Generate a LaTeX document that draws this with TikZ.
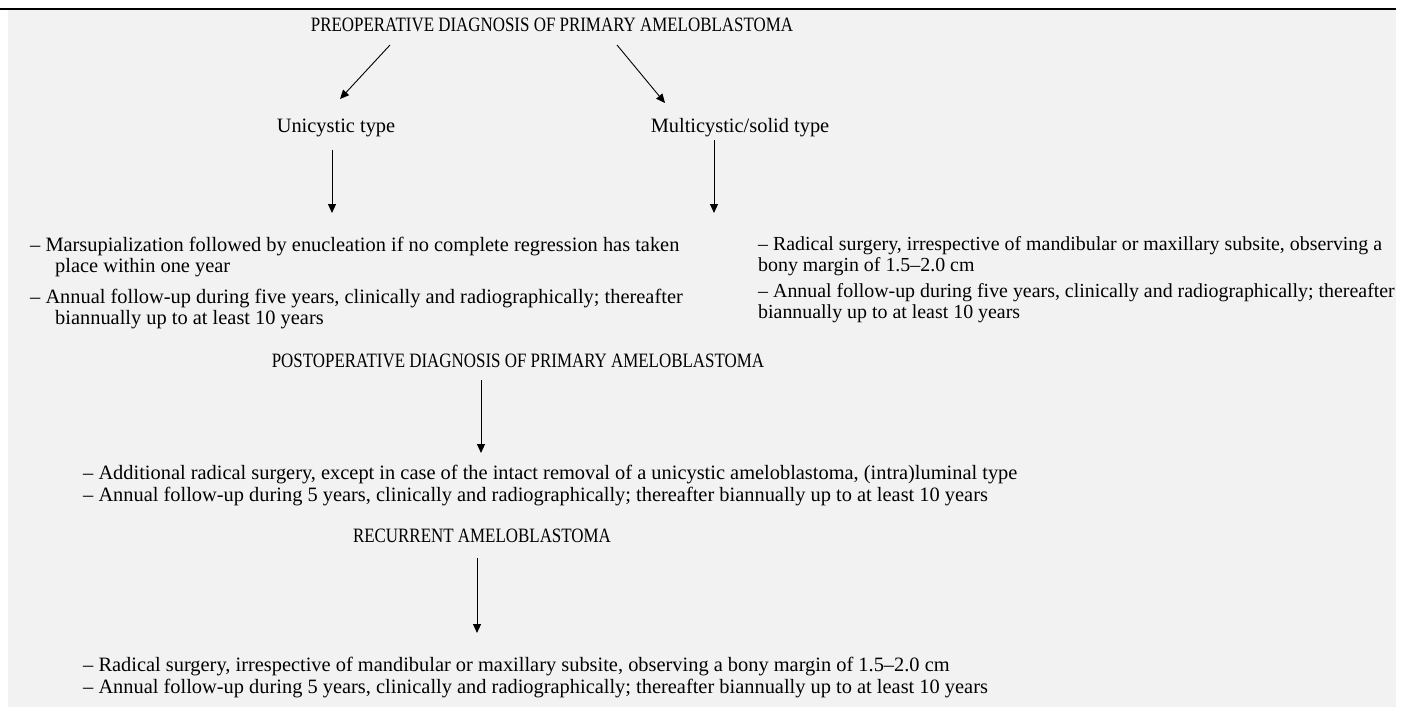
\documentclass[tikz,border=0pt]{standalone}
\usepackage{fontspec}
\setmainfont{Liberation Serif}
\usetikzlibrary{arrows.meta}
\newcommand{\ttltext}[1]{\scalebox{0.83}[1]{#1}}
\begin{document}
\begin{tikzpicture}[x=1pt,y=-1pt,
  txt/.style={inner sep=0pt,font=\fontsize{20.4}{24}\selectfont},
  blk/.style={txt,anchor=base west,align=left},
  rblk/.style={blk,font=\fontsize{19.9}{24}\selectfont},
  ttl/.style={txt,anchor=base},
  arr/.style={draw=black,line width=0.9pt,-{Triangle[length=9pt,width=8pt]}}]
\useasboundingbox (0,0) rectangle (1423,707);
\fill[white] (0,0) rectangle (1423,707);
\fill[black!5] (8,9) rectangle (1396,707);
\draw[line width=2.5pt] (0,9) -- (1396,9);
% titles
\node[ttl] (pre) at (552,31) {\ttltext{PREOPERATIVE DIAGNOSIS OF PRIMARY AMELOBLASTOMA}};
\node[ttl] (uni) at (336,132) {Unicystic type};
\node[ttl] (mul) at (740,132) {Multicystic/solid type};
% arrows from title
\coordinate (a1s) at (390,45); \coordinate (a1e) at (340,99);
\coordinate (a2s) at (617,45); \coordinate (a2e) at (665,103);
\draw[arr] (a1s) -- (a1e);
\draw[arr] (a2s) -- (a2e);
\coordinate (a3s) at (332,150); \coordinate (a3e) at (332,213);
\coordinate (a4s) at (714,140); \coordinate (a4e) at (714,213);
\draw[arr] (a3s) -- (a3e);
\draw[arr] (a4s) -- (a4e);
% left block
\node[blk] (l1) at (30,251) {– Marsupialization followed by enucleation if no complete regression has taken};
\node[blk] (l2) at (55,272) {place within one year};
\node[blk] (l3) at (30,303) {– Annual follow-up during five years, clinically and radiographically; thereafter};
\node[blk] (l4) at (55,324) {biannually up to at least 10 years};
% right block
\node[rblk] (r1) at (758,250) {– Radical surgery, irrespective of mandibular or maxillary subsite, observing a};
\node[rblk] (r2) at (758,271) {bony margin of 1.5–2.0 cm};
\node[rblk] (r3) at (758,297) {– Annual follow-up during five years, clinically and radiographically; thereafter};
\node[rblk] (r4) at (758,318) {biannually up to at least 10 years};
% postoperative
\node[ttl] (post) at (518,367) {\ttltext{POSTOPERATIVE DIAGNOSIS OF PRIMARY AMELOBLASTOMA}};
\coordinate (a5s) at (481,380); \coordinate (a5e) at (481,453);
\draw[arr] (a5s) -- (a5e);
\node[blk] (p1) at (83,479) {– Additional radical surgery, except in case of the intact removal of a unicystic ameloblastoma, (intra)luminal type};
\node[blk] (p2) at (83,501) {– Annual follow-up during 5 years, clinically and radiographically; thereafter biannually up to at least 10 years};
% recurrent
\node[ttl] (rec) at (482,542) {\ttltext{RECURRENT AMELOBLASTOMA}};
\coordinate (a6s) at (477,558); \coordinate (a6e) at (477,633);
\draw[arr] (a6s) -- (a6e);
\node[blk] (c1) at (83,671) {– Radical surgery, irrespective of mandibular or maxillary subsite, observing a bony margin of 1.5–2.0 cm};
\node[blk] (c2) at (83,693) {– Annual follow-up during 5 years, clinically and radiographically; thereafter biannually up to at least 10 years};
\end{tikzpicture}
\end{document}
